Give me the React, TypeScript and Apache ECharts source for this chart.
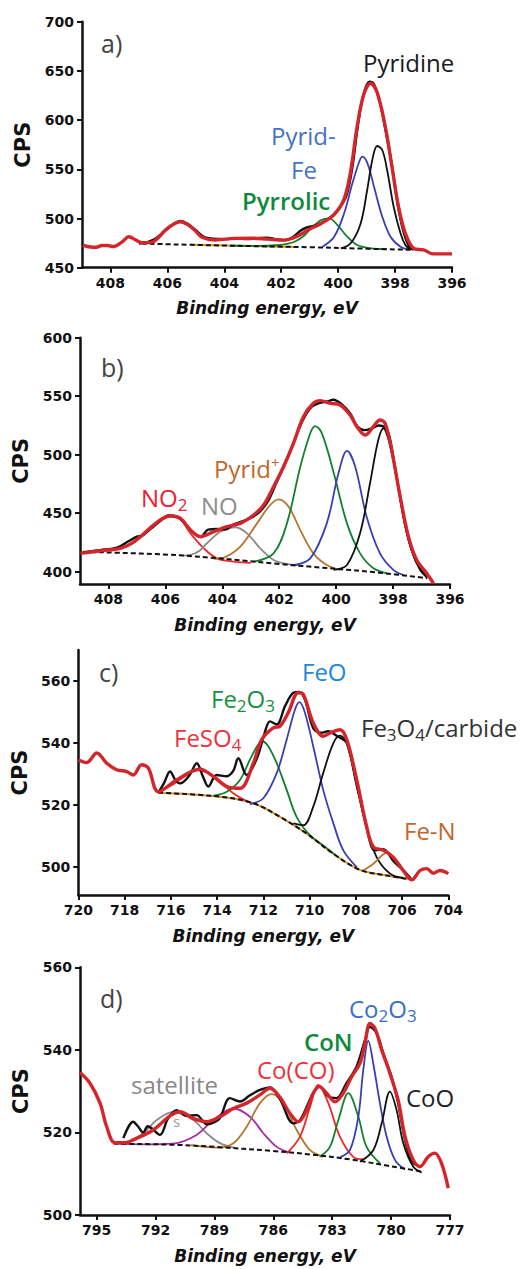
import React, { useEffect, useRef } from 'react';
import * as echarts from 'echarts';

type P = [number, number];

// ---------- tick values ----------
const abTicksX = [396, 398, 400, 402, 404, 406, 408];
const aTicksY = [450, 500, 550, 600, 650, 700];
const bTicksY = [400, 450, 500, 550, 600];
const cTicksX = [704, 706, 708, 710, 712, 714, 716, 718, 720];
const cTicksY = [500, 520, 540, 560];
const dTicksX = [777, 780, 783, 786, 789, 792, 795];
const dTicksY = [500, 520, 540, 560];

// ---------- panel a (N 1s) ----------
const aFit: P[] = [[408.97, 473], [408.7, 471], [408.5, 470.8], [408.3, 472.5], [408.1, 472.5], [407.9, 471.5], [407.6, 476], [407.35, 481.5], [407.1, 478], [406.88, 475.4], [406.53, 476], [406.3, 481], [406.07, 488.3], [405.8, 494], [405.55, 496.7], [405.26, 493.4], [405.0, 487], [404.79, 481], [404.33, 478.2], [403.63, 479.8], [403.0, 480], [402.47, 479], [401.88, 478], [401.6, 480], [401.3, 484], [401.07, 488.3], [400.6, 495], [400.14, 504], [399.79, 520], [399.56, 548], [399.33, 594], [399.1, 626], [398.86, 637.4], [398.63, 628], [398.34, 593], [398.11, 552.6], [397.88, 512], [397.64, 485], [397.35, 469.7], [397.0, 468], [396.65, 464], [396.3, 464], [396.0, 464]];
const aRaw: P[] = [[407.0, 474.5], [406.7, 476], [406.4, 480], [406.1, 487], [405.8, 494], [405.55, 497.5], [405.3, 495], [405.0, 488], [404.7, 481], [404.4, 479.5], [404.0, 479], [403.6, 479.5], [403.2, 479], [402.8, 480], [402.5, 480.5], [402.2, 479], [401.9, 478], [401.6, 481], [401.3, 488], [401.1, 491], [400.8, 493], [400.5, 497], [400.2, 503], [399.9, 513], [399.7, 524], [399.5, 552], [399.3, 596], [399.1, 627], [398.9, 639], [398.75, 637], [398.55, 620], [398.35, 592], [398.1, 552], [397.9, 513], [397.7, 486], [397.5, 471], [397.35, 468]];
const aBase: P[] = [[406.9, 474.5], [404, 472.5], [401, 470.8], [399, 469.3], [397.45, 468.2]];
const aOrange: P[] = [[405.2, 473.4], [403, 472], [401.5, 471.1]];
const aPyrrolic: P[] = [[403.8, 472.3], [402.8, 472.2], [402.2, 472.8], [401.8, 474.3], [401.53, 476.4], [401.2, 482.5], [400.95, 490], [400.6, 498.5], [400.31, 500.2], [400.03, 493.4], [399.68, 481.5], [399.33, 473], [398.86, 469.7], [398.3, 469.0]];
const aPyridFe: P[] = [[400.55, 471.3], [400.14, 481.5], [399.79, 505.3], [399.5, 535.8], [399.26, 557.7], [399.15, 562.8], [398.97, 556], [398.74, 532.3], [398.45, 501.8], [398.16, 481.5], [397.81, 471.3], [397.52, 468.7]];
const aPyridine: P[] = [[399.91, 469.7], [399.56, 474.8], [399.21, 495], [398.98, 529], [398.8, 559.5], [398.63, 573.7], [398.45, 569.6], [398.28, 549.3], [398.05, 512], [397.81, 485], [397.64, 473.1], [397.47, 468.7]];

// ---------- panel b ----------
const bFit: P[] = [[408.98, 415.7], [408.28, 417.9], [407.58, 420], [407.2, 424], [406.88, 429.9], [406.41, 440], [406.1, 445.5], [405.82, 447.6], [405.47, 445.6], [405.12, 435.6], [404.77, 429.9], [404.3, 434.2], [403.84, 438.5], [403.37, 441.3], [402.9, 448.5], [402.55, 457], [402.2, 472.6], [401.85, 489.7], [401.5, 509.7], [401.15, 532.5], [400.8, 543.9], [400.56, 546.2], [400.2, 543.9], [399.86, 542.5], [399.51, 533.9], [399.27, 524], [398.98, 516.8], [398.69, 524], [398.46, 529.7], [398.28, 526.8], [398.05, 504], [397.75, 464.1], [397.46, 429.9], [397.17, 410], [396.82, 398.6], [396.58, 390]];
const bRaw: P[] = [[408.9, 416.5], [408.3, 418.5], [407.7, 420.5], [407.3, 426], [407.0, 430], [406.8, 431], [406.5, 437], [406.2, 443], [405.9, 448], [405.6, 447], [405.3, 441], [405.0, 433], [404.75, 430], [404.5, 436], [404.2, 436.5], [403.9, 436], [403.6, 440.5], [403.3, 443], [403.0, 446], [402.7, 451], [402.4, 460], [402.1, 476], [401.8, 492], [401.5, 510], [401.2, 528], [400.9, 540], [400.6, 544], [400.3, 545.5], [400.1, 547], [399.8, 543], [399.5, 535], [399.25, 524], [399.0, 521], [398.75, 522.5], [398.5, 525], [398.3, 523], [398.05, 503], [397.8, 470], [397.5, 432], [397.25, 412], [397.0, 401], [396.8, 395]];
const bBase: P[] = [[408.9, 417], [405.5, 414], [402, 406.6], [398.5, 399.2], [396.8, 394.4]];
const bNO2: P[] = [[408.9, 416.5], [408.0, 418.5], [407.5, 420.5], [407.0, 427], [406.6, 435], [406.2, 443], [405.82, 447.3], [405.47, 444.5], [405.12, 432.8], [404.65, 420], [404.19, 411.4], [403.6, 408.6], [403.0, 407.5]];
const bNO: P[] = [[405.4, 413.8], [405.12, 414.3], [404.8, 418], [404.54, 424.3], [404.07, 434.2], [403.54, 438], [403.13, 432.8], [402.67, 420], [402.2, 410], [401.73, 406.6], [401.3, 405.5]];
const bPyridPlus: P[] = [[404.3, 411], [403.9, 412.5], [403.37, 421.4], [402.78, 441.3], [402.32, 457], [402.02, 461.9], [401.67, 455.6], [401.26, 435.6], [400.8, 415.7], [400.33, 405.7], [399.86, 401.5]];
const bPyrrolic: P[] = [[402.9, 408.6], [402.2, 415.7], [401.73, 441.3], [401.26, 489.7], [400.91, 518.3], [400.74, 524.5], [400.5, 518.3], [400.08, 484], [399.62, 441.3], [399.16, 415.7], [398.69, 402.9], [398.22, 398.6]];
const bPyridFe: P[] = [[401.5, 405.7], [400.91, 411.4], [400.33, 441.3], [399.92, 484], [399.62, 503.2], [399.33, 489.7], [398.93, 447], [398.46, 415.7], [397.99, 401.5], [397.64, 397.2]];
const bPyridine: P[] = [[400.09, 401.5], [399.62, 405.7], [399.16, 432.8], [398.81, 475.6], [398.52, 512.6], [398.33, 522.6], [398.15, 518.3], [397.93, 489.7], [397.64, 447], [397.35, 418.5], [397.05, 401.5], [396.82, 395.7]];

// ---------- panel c (Fe 2p) ----------
const cFit: P[] = [[720, 534.6], [719.64, 533.7], [719.2, 536.8], [718.77, 533.5], [718.34, 531.4], [717.91, 530.8], [717.62, 529.7], [717.26, 533], [716.97, 531.9], [716.54, 524.3], [715.75, 528.1], [714.74, 531.6], [714.16, 529.2], [713.58, 526], [713.01, 525.4], [712.43, 533.5], [712.07, 541.1], [711.57, 544.9], [711.28, 545.4], [710.92, 549.8], [710.49, 556.2], [710.27, 555.7], [709.84, 546.5], [709.41, 542.2], [709.04, 543.5], [708.68, 544.3], [708.39, 541.1], [707.96, 528.1], [707.53, 513], [707.24, 506.5], [706.81, 505.4], [706.38, 503.2], [705.95, 498.9], [705.58, 495.9], [705.22, 498.9], [704.93, 499.5], [704.65, 498], [704.36, 498.9], [704, 497.9]];
const cRaw: P[] = [[716.54, 524], [716.3, 527], [716.03, 530.8], [715.8, 528], [715.6, 527], [715.2, 529.5], [714.88, 533.5], [714.6, 529], [714.38, 526], [714.02, 529.7], [713.58, 529.3], [713.3, 531], [713.08, 535.1], [712.72, 529.7], [712.28, 535], [711.95, 543], [711.71, 547], [711.42, 546], [711.06, 551.9], [710.7, 556.2], [710.45, 556.5], [710.2, 554], [709.84, 544.8], [709.5, 543.3], [709.2, 543.8], [708.8, 542.2], [708.39, 540], [707.96, 527], [707.53, 512.7], [707.17, 505.4], [706.81, 505.8], [706.38, 502], [705.95, 499], [705.58, 495.9]];
const cBase: P[] = [[716.54, 524], [713.87, 522.7], [712.43, 520.6], [711.28, 516.2], [710.12, 510.8], [708.97, 504.3], [707.82, 499.1], [706.66, 497.3], [705.51, 495.9]];
const cFeSO4: P[] = [[716.54, 524.2], [716.0, 526.2], [715.4, 529.2], [714.85, 531.2], [714.3, 530], [713.8, 527], [713.3, 523.8], [712.9, 522], [712.5, 520.6]];
const cFe2O3: P[] = [[714.16, 523], [713.58, 524.3], [713.01, 528.1], [712.58, 534.6], [712.22, 539.5], [712.03, 540.5], [711.78, 538.9], [711.42, 533.5], [710.99, 524.9], [710.56, 516.2], [709.98, 510.2], [709.41, 507], [708.9, 504]];
const cFeO: P[] = [[712.58, 520.3], [712.0, 522.2], [711.42, 530.3], [710.99, 541.1], [710.63, 550.8], [710.44, 553.2], [710.2, 549.8], [709.84, 538.9], [709.41, 524.9], [708.97, 514.1], [708.54, 505.4], [707.96, 500]];
const cFe3O4: P[] = [[710.7, 514.1], [710.27, 513.5], [709.84, 519.5], [709.41, 530.3], [708.97, 540], [708.68, 542.4], [708.39, 540], [707.96, 526], [707.53, 513], [707.1, 503.2], [706.52, 497.9], [705.95, 496.5]];
const cFeN: P[] = [[707.68, 498.9], [707.24, 501.1], [706.66, 504.6], [706.23, 501.6], [705.8, 496.8]];

// ---------- panel d (Co 2p) ----------
const dFit: P[] = [[795.85, 534.5], [795.34, 531.9], [794.83, 527.1], [794.49, 521.4], [794.07, 517.5], [793.47, 517.6], [793.14, 518.2], [792.12, 520.6], [791.27, 524], [790.76, 525], [790.08, 523.4], [789.4, 522.6], [788.72, 523.8], [788.04, 525.8], [787.36, 527.1], [786.68, 529.1], [786.17, 530.7], [785.66, 528.5], [785.15, 524.6], [784.73, 522.6], [784.3, 525.4], [783.97, 529.5], [783.66, 531.1], [783.28, 529.5], [782.86, 527.4], [782.44, 529.5], [782.01, 533.5], [781.59, 536.7], [781.33, 541.6], [781.08, 546.4], [780.82, 545.2], [780.48, 540], [780.06, 534.3], [779.64, 527.8], [779.29, 519], [778.87, 513.3], [778.53, 511.7], [778.11, 514.1], [777.77, 515], [777.43, 512.5], [777.09, 506.5]];
const dRaw: P[] = [[793.64, 518.6], [793.14, 522.6], [792.9, 521.5], [792.63, 520], [792.4, 521.5], [792.2, 521], [791.78, 519.4], [791.36, 523.4], [790.92, 525.4], [790.42, 524], [789.91, 524.2], [789.4, 522], [789.0, 522.5], [788.72, 523.5], [788.21, 528.3], [787.7, 527.5], [787.19, 529], [786.68, 530.3], [786.17, 530.9], [785.66, 528], [784.98, 522.2], [784.64, 523], [783.97, 529.5], [783.63, 531.1], [783.2, 528.7], [782.78, 528.3], [782.27, 532], [781.76, 536], [781.33, 542.4], [781.08, 545.6], [780.74, 544], [780.4, 539.2], [779.98, 533.5], [779.64, 527], [779.29, 518.2], [778.95, 513], [778.53, 511.8]];
const dBase: P[] = [[794.15, 517.3], [791, 517], [789, 516.5], [786, 515.5], [784, 514.6], [782, 513.4], [780, 511.8], [778.5, 510.6]];
const dSatellite: P[] = [[793.5, 517.3], [792.63, 519.8], [791.94, 523], [791.1, 525], [790.08, 523], [789.4, 519.8], [788.72, 517.4], [788.0, 516.3]];
const dPurple: P[] = [[794.1, 517.3], [792.5, 517.1], [791.1, 517.3], [789.91, 519.4], [789.06, 523], [788.04, 525.8], [787.19, 523.8], [786.51, 519.8], [785.83, 516.5], [785.15, 515.1]];
const dBrown: P[] = [[790.2, 516.9], [788.89, 516.3], [788.04, 517.4], [787.36, 521.4], [786.68, 527.1], [786.09, 529.3], [785.49, 527.1], [784.81, 520.6], [784.13, 515.7], [783.46, 514.1]];
const dCoCO: P[] = [[785.32, 514.9], [784.64, 519], [784.13, 526.2], [783.71, 531.5], [783.2, 527.1], [782.61, 519], [781.93, 514.1], [781.4, 513.5]];
const dCoN: P[] = [[783.63, 514.1], [783.12, 516.5], [782.69, 523], [782.18, 529.5], [781.67, 523.8], [781.25, 516.5], [780.57, 512.5]];
const dCo2O3: P[] = [[782.6, 514], [782.1, 515.7], [781.67, 523.8], [781.42, 535.1], [781.16, 542.2], [780.91, 536.7], [780.57, 527.1], [780.23, 519], [779.8, 513.3], [779.29, 511]];
const dCoO: P[] = [[781.59, 512.9], [780.91, 515.7], [780.48, 522.2], [780.06, 529.9], [779.72, 525.4], [779.38, 517.4], [778.87, 511.7], [778.44, 510.3]];

// ---------- colours ----------
const RED = '#d4252b';
const RED2 = '#f0282e';
const BLACK = '#111111';
const BLUE = '#3a3fb0';
const GREEN = '#12802e';
const BROWN = '#b8742c';
const GRAY = '#8a8a8a';
const PURPLE = '#a42ca8';
const ORANGE = '#e0902a';

const TICK_FONT = 'DejaVu Sans';
const ANN_FONT = 'Open Sans';
const ANN_SIZE = 24;

function xAxis(gi: number, min: number, max: number, ticks: number[]) {
  return {
    type: 'value', gridIndex: gi, min, max, inverse: true,
    name: 'Binding energy, eV', nameLocation: 'middle', nameGap: 32,
    nameTextStyle: { fontFamily: TICK_FONT, fontWeight: 'bold', fontStyle: 'italic', fontSize: 17, color: BLACK },
    axisLine: { show: true, onZero: false, lineStyle: { color: BLACK, width: 2.5 } },
    axisTick: { show: true, inside: false, length: 5, lineStyle: { color: BLACK, width: 2 }, customValues: ticks },
    axisLabel: { show: true, margin: 8, fontFamily: TICK_FONT, fontWeight: 'bold', fontSize: 14, color: BLACK, customValues: ticks },
    splitLine: { show: false },
  };
}

function yAxis(gi: number, min: number, max: number, ticks: number[]) {
  return {
    type: 'value', gridIndex: gi, min, max,
    name: 'CPS', nameLocation: 'middle', nameGap: 44,
    nameTextStyle: { fontFamily: TICK_FONT, fontWeight: 'bold', fontSize: 21, color: BLACK },
    axisLine: { show: true, onZero: false, lineStyle: { color: BLACK, width: 2.5 } },
    axisTick: { show: true, inside: false, length: 5, lineStyle: { color: BLACK, width: 2 }, customValues: ticks },
    axisLabel: { show: true, margin: 8, fontFamily: TICK_FONT, fontWeight: 'bold', fontSize: 14, color: BLACK, customValues: ticks },
    splitLine: { show: false },
  };
}

function line(gi: number, data: P[], color: string, width: number, extra: any = {}) {
  return {
    type: 'line', xAxisIndex: gi, yAxisIndex: gi, data, symbol: 'none', showSymbol: false,
    smooth: 0.35, silent: true, lineStyle: { color, width, ...(extra.lineStyle || {}) },
  };
}
const dashed = { lineStyle: { type: [5, 3] } };

function panelSeries(gi: number, base: P[], orange: P[] | null, comps: [P[], string][], raw: P[], fit: P[]) {
  const s: any[] = [];
  if (orange) s.push(line(gi, orange, ORANGE, 2));
  comps.forEach(([d, c]) => s.push(line(gi, d, c, 1.8)));
  s.push(line(gi, base, BLACK, 2, dashed));
  s.push(line(gi, raw, BLACK, 2.4));
  s.push(line(gi, fit, RED, 3.4));
  return s;
}

function txt(x: number, y: number, text: string, color: string, size = ANN_SIZE, weight: any = 'normal', rich?: any) {
  return {
    type: 'text', x, y, silent: true, z: 100,
    style: {
      text, fill: color, fontFamily: ANN_FONT, fontSize: size, fontWeight: weight, lineHeight: size,
      align: 'left', verticalAlign: 'middle', rich,
    },
  };
}
function chem(x: number, y: number, text: string, color: string, weight: any = 'normal', sub = 17) {
  const rich = {
    m: { fill: color, fontFamily: ANN_FONT, fontSize: ANN_SIZE, fontWeight: weight },
    s: { fill: color, fontFamily: ANN_FONT, fontSize: sub, fontWeight: weight, padding: [14, 0, 0, 0] },
    p: { fill: color, fontFamily: ANN_FONT, fontSize: 15, fontWeight: weight, padding: [0, 0, 12, 0] },
  };
  return txt(x, y, text, color, ANN_SIZE, weight, rich);
}

export default function App() {
  const ref = useRef<HTMLDivElement>(null);
  useEffect(() => {
    if (!ref.current) return;
    const chart = echarts.init(ref.current, undefined, { renderer: 'svg' });
    const option: any = {
      animation: false,
      backgroundColor: '#ffffff',
      grid: [
        { left: 82, top: 21.7, width: 370, height: 246 },
        { left: 80, top: 337.7, width: 370, height: 246.3 },
        { left: 78.3, top: 650, width: 370, height: 245 },
        { left: 80, top: 967.3, width: 370, height: 247.7 },
      ],
      xAxis: [
        xAxis(0, 396, 409, abTicksX),
        xAxis(1, 396, 409, abTicksX),
        xAxis(2, 704, 720, cTicksX),
        xAxis(3, 777, 795.85, dTicksX),
      ],
      yAxis: [
        yAxis(0, 450, 700, aTicksY),
        yAxis(1, 389.5, 600, bTicksY),
        yAxis(2, 491, 570, cTicksY),
        yAxis(3, 500, 560, dTicksY),
      ],
      series: [
        ...panelSeries(0, aBase, aOrange, [[aPyrrolic, GREEN], [aPyridFe, BLUE], [aPyridine, BLACK]], aRaw, aFit),
        ...panelSeries(1, bBase, null, [[bNO2, RED2], [bNO, GRAY], [bPyridPlus, BROWN], [bPyrrolic, GREEN], [bPyridFe, BLUE], [bPyridine, BLACK]], bRaw, bFit),
        ...panelSeries(2, cBase, cBase, [[cFeSO4, RED2], [cFe2O3, GREEN], [cFeO, BLUE], [cFe3O4, BLACK], [cFeN, BROWN]], cRaw, cFit),
        ...panelSeries(3, dBase, null, [[dSatellite, GRAY], [dPurple, PURPLE], [dBrown, BROWN], [dCoCO, RED2], [dCoN, GREEN], [dCo2O3, BLUE], [dCoO, BLACK]], dRaw, dFit),
      ],
      graphic: [
        txt(101, 43, 'a)', '#444444', 25),
        txt(363, 62, 'Pyridine', '#1a1a1a'),
        txt(271, 135, 'Pyrid-', '#4472c4'),
        txt(291, 169, 'Fe', '#4472c4'),
        txt(242, 200, 'Pyrrolic', '#0f8a3c', ANN_SIZE, 600),
        txt(101, 367, 'b)', '#444444', 25),
        chem(141, 497, '{m|NO}{s|2}', '#ee2030'),
        txt(201, 505, 'NO', '#8c8c8c'),
        chem(214, 468, '{m|Pyrid}{p|+}', '#c0682a'),
        txt(99, 672, 'c)', '#444444', 25),
        txt(302, 671, 'FeO', '#1e88d8'),
        chem(211, 698, '{m|Fe}{s|2}{m|O}{s|3}', '#179040'),
        chem(174, 737, '{m|FeSO}{s|4}', '#f0303a'),
        chem(361, 727, '{m|Fe}{s|3}{m|O}{s|4}{m|/carbide}', '#333333'),
        txt(404, 830, 'Fe-N', '#c0682a'),
        txt(100, 998, 'd)', '#444444', 25),
        txt(131, 1084, 'satellite', '#888888'),
        txt(173, 1121, 's', '#999999', 15),
        txt(257, 1069, 'Co(CO)', '#f0303a'),
        txt(304, 1041, 'CoN', '#0d8a3a', ANN_SIZE, 600),
        chem(349, 1008, '{m|Co}{s|2}{m|O}{s|3}', '#3a70c8'),
        txt(406, 1097, 'CoO', '#222222'),
      ],
    };
    chart.setOption(option);
    return () => chart.dispose();
  }, []);
  return <div ref={ref} style={{ position: 'absolute', left: 0, top: 0, width: 521, height: 1269, background: '#fff' }} />;
}
